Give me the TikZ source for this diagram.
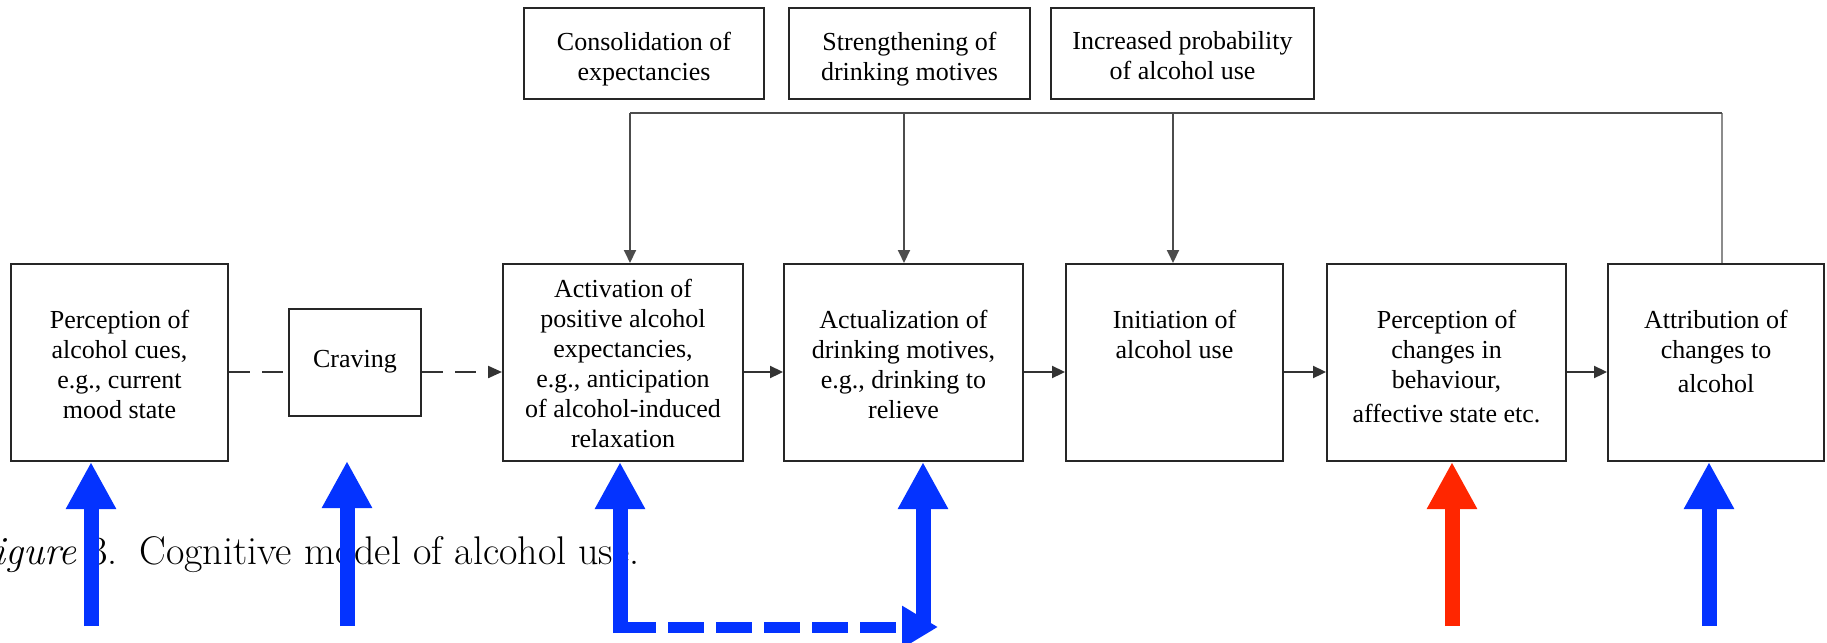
\documentclass[tikz,border=0pt]{standalone}
\usepackage{fontspec}
\newfontfamily\bxfont{Liberation Serif}
\usetikzlibrary{arrows.meta}
\definecolor{cblue}{HTML}{0433FF}
\definecolor{cred}{HTML}{FF2600}
\tikzset{
  box/.style={draw=black!85, line width=2pt, inner sep=0pt, fill=none},
  lbl/.style={font=\bxfont\fontsize{26}{30}\selectfont, align=center, inner sep=0pt},
  flow/.style={draw=black!80, line width=2.2pt, -{Triangle[length=13pt,width=12pt]}},
  dflow/.style={draw=black!80, line width=2.2pt, dash pattern=on 21pt off 12pt},
  feed/.style={draw=black!70, line width=2pt},
  feedarrow/.style={feed, -{Triangle[length=13pt,width=12pt]}},
  riser/.style={draw=black!45, line width=2pt},
  bigarrow/.style={line width=15pt, -{Triangle[length=47pt,width=47pt]}},
}
\begin{document}
\begin{tikzpicture}[x=1pt,y=-1pt]
\useasboundingbox (0,0) rectangle (1827,642);

% top boxes
\node[box, minimum width=240, minimum height=91] (ta) at (644,53.5) {};
\node[box, minimum width=241, minimum height=91] (tb) at (909.5,53.5) {};
\node[box, minimum width=263, minimum height=91] (tc) at (1182.5,53.5) {};
\node[lbl, anchor=north] (tat) at (644,31.5) {Consolidation of\\expectancies};
\node[lbl, anchor=north] (tbt) at (909.5,31.5) {Strengthening of\\drinking motives};
\node[lbl, anchor=north] (tct) at (1182.5,31.5) {Increased probability\\of alcohol use};

% main boxes
\node[box, minimum width=217, minimum height=197] (b1) at (119.5,362.5) {};
\node[box, minimum width=132, minimum height=107] (cr) at (355,362.5) {};
\node[box, minimum width=240, minimum height=197] (b3) at (623,362.5) {};
\node[box, minimum width=239, minimum height=197] (b4) at (903.5,362.5) {};
\node[box, minimum width=217, minimum height=197] (b5) at (1174.5,362.5) {};
\node[box, minimum width=239, minimum height=197] (b6) at (1446.5,362.5) {};
\node[box, minimum width=216, minimum height=197] (b7) at (1716,362.5) {};

\node[lbl, anchor=north] (b1t) at (119.5,310) {Perception of\\alcohol cues,\\e.g., current\\mood state};
\node[lbl] (crt) at (355,362) {Craving};
\node[lbl, anchor=north] (b3t) at (623,279) {Activation of\\positive alcohol\\expectancies,\\e.g., anticipation\\of alcohol-induced\\relaxation};
\node[lbl, anchor=north] (b4t) at (903.5,310) {Actualization of\\drinking motives,\\e.g., drinking to\\relieve};
\node[lbl, anchor=north] (b5t) at (1174.5,310) {Initiation of\\alcohol use};
\node[lbl, anchor=north] (b6t) at (1446.5,310) {Perception of\\changes in\\behaviour,\\[4pt]affective state etc.};
\node[lbl, anchor=north] (b7t) at (1716,310) {Attribution of\\changes to\\[4pt]alcohol};

% horizontal flow
\coordinate (fy) at (0,372);
\draw[dflow] (b1.east |- fy) -- (cr.west |- fy);
\draw[dflow, -{Triangle[length=14pt,width=12pt]}] (cr.east |- fy) -- (b3.west |- fy);
\draw[flow] (b3.east |- fy) -- (b4.west |- fy);
\draw[flow] (b4.east |- fy) -- (b5.west |- fy);
\draw[flow] (b5.east |- fy) -- (b6.west |- fy);
\draw[flow] (b6.east |- fy) -- (b7.west |- fy);

% feedback
\coordinate (k1) at (630,113);
\coordinate (k2) at (904,113);
\coordinate (k3) at (1173,113);
\coordinate (k4) at (1722,113);
\draw[riser] (b7.north -| k4) -- (k4);
\draw[feed] (k4) -- (k1);
\draw[feedarrow] (k1) -- (b3.north -| k1);
\draw[feedarrow] (k2) -- (b4.north -| k2);
\draw[feedarrow] (k3) -- (b5.north -| k3);

% caption
\node[anchor=base west, inner sep=0pt, font=\fontsize{40}{44}\selectfont] (cap) at (-7,564) {\textit{igure} 3.\hspace{22pt}Cognitive model of alcohol use.};

% overlay arrows
\coordinate (u1) at (91,626);
\coordinate (u2) at (347,626);
\coordinate (u2t) at (347,461);
\coordinate (u3) at (620,633);
\coordinate (u4) at (923,625);
\coordinate (u5) at (1452,626);
\coordinate (u6) at (1709,626);
\coordinate (dstart) at (613,627);
\coordinate (dend) at (938,627);
\draw[bigarrow, cblue] (u1) -- (b1.south -| u1);
\draw[bigarrow, cblue] (u2) -- (u2t);
\draw[bigarrow, cblue] (u3) -- (b3.south -| u3);
\draw[bigarrow, cblue] (u4) -- (b4.south -| u4);
\draw[bigarrow, cred] (u5) -- (b6.south -| u5);
\draw[bigarrow, cblue] (u6) -- (b7.south -| u6);
\draw[cblue, line width=11pt, dash pattern=on 43pt off 12pt on 36pt off 12pt on 36pt off 12pt on 36pt off 12pt on 36pt off 12pt on 36pt off 12pt, -{Triangle[length=36pt,width=40pt]}] (dstart) -- (dend);
\end{tikzpicture}
\end{document}
